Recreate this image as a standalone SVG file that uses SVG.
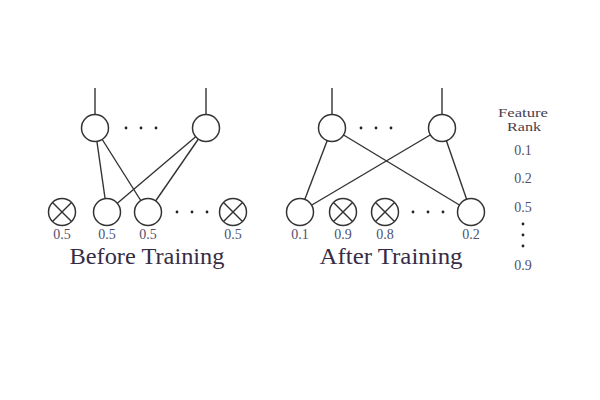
<svg xmlns="http://www.w3.org/2000/svg" width="600" height="400" viewBox="0 0 600 400">
<style>
.ln{stroke:#333;stroke-width:1.4;fill:none}
.nd{fill:#fff;stroke:#333;stroke-width:1.5}
.x{stroke:#333;stroke-width:1.4}
.dot{fill:#222}
.val{font-family:"Liberation Serif",serif;font-size:14px;fill:#50506e;text-anchor:middle}
.ttl{font-family:"Liberation Serif",serif;font-size:23px;fill:#352d45;text-anchor:middle}
.hdr{font-family:"Liberation Serif",serif;font-size:13px;fill:#4a4050;text-anchor:middle}
</style>
<defs>
<g id="dots3"><circle cx="0" cy="0" r="1.4" class="dot"/><circle cx="15" cy="0" r="1.4" class="dot"/><circle cx="30" cy="0" r="1.4" class="dot"/></g>
</defs>
<rect width="600" height="400" fill="#fff"/>
<g id="connectors">
<line class="ln" x1="95" y1="88" x2="95" y2="128"/>
<line class="ln" x1="206" y1="88" x2="206" y2="128"/>
<line class="ln" x1="95" y1="128" x2="107" y2="212"/>
<line class="ln" x1="95" y1="128" x2="148" y2="212"/>
<line class="ln" x1="206" y1="128" x2="107" y2="212"/>
<line class="ln" x1="206" y1="128" x2="148" y2="212"/>
<line class="ln" x1="332" y1="88" x2="332" y2="128"/>
<line class="ln" x1="442" y1="88" x2="442" y2="128"/>
<line class="ln" x1="332" y1="128" x2="300" y2="212"/>
<line class="ln" x1="332" y1="128" x2="471" y2="212"/>
<line class="ln" x1="442" y1="128" x2="300" y2="212"/>
<line class="ln" x1="442" y1="128" x2="471" y2="212"/>
</g>
<g id="before">
<g id="b-h1"><circle class="nd" cx="95" cy="128" r="13.5"/></g>
<g id="b-h2"><circle class="nd" cx="206" cy="128" r="13.5"/></g>
<use href="#dots3" x="126" y="128"/>
<g id="b-i1"><circle class="nd" cx="62" cy="212" r="13.5"/><line class="x" x1="52.5" y1="202.5" x2="71.5" y2="221.5"/><line class="x" x1="71.5" y1="202.5" x2="52.5" y2="221.5"/><text class="val" x="62" y="239">0.5</text></g>
<g id="b-i2"><circle class="nd" cx="107" cy="212" r="13.5"/><text class="val" x="107" y="239">0.5</text></g>
<g id="b-i3"><circle class="nd" cx="148" cy="212" r="13.5"/><text class="val" x="148" y="239">0.5</text></g>
<use href="#dots3" x="177" y="212"/>
<g id="b-i4"><circle class="nd" cx="233" cy="212" r="13.5"/><line class="x" x1="223.5" y1="202.5" x2="242.5" y2="221.5"/><line class="x" x1="242.5" y1="202.5" x2="223.5" y2="221.5"/><text class="val" x="233" y="239">0.5</text></g>
<text class="ttl" x="147" y="264" textLength="155" lengthAdjust="spacingAndGlyphs">Before Training</text>
</g>
<g id="after">
<g id="a-h1"><circle class="nd" cx="332" cy="128" r="13.5"/></g>
<g id="a-h2"><circle class="nd" cx="442" cy="128" r="13.5"/></g>
<use href="#dots3" x="361" y="128"/>
<g id="a-i1"><circle class="nd" cx="300" cy="212" r="13.5"/><text class="val" x="300" y="239">0.1</text></g>
<g id="a-i2"><circle class="nd" cx="343" cy="212" r="13.5"/><line class="x" x1="333.5" y1="202.5" x2="352.5" y2="221.5"/><line class="x" x1="352.5" y1="202.5" x2="333.5" y2="221.5"/><text class="val" x="343" y="239">0.9</text></g>
<g id="a-i3"><circle class="nd" cx="385" cy="212" r="13.5"/><line class="x" x1="375.5" y1="202.5" x2="394.5" y2="221.5"/><line class="x" x1="394.5" y1="202.5" x2="375.5" y2="221.5"/><text class="val" x="385" y="239">0.8</text></g>
<use href="#dots3" x="413" y="212"/>
<g id="a-i4"><circle class="nd" cx="471" cy="212" r="13.5"/><text class="val" x="471" y="239">0.2</text></g>
<text class="ttl" x="391" y="264" textLength="143" lengthAdjust="spacingAndGlyphs">After Training</text>
</g>
<g id="rank">
<text class="hdr" x="523" y="117" textLength="50" lengthAdjust="spacingAndGlyphs">Feature</text>
<text class="hdr" x="524" y="131" textLength="34" lengthAdjust="spacingAndGlyphs">Rank</text>
<text class="val" x="523" y="155">0.1</text>
<text class="val" x="523" y="183">0.2</text>
<text class="val" x="523" y="212">0.5</text>
<circle class="dot" cx="523" cy="224" r="1.4"/>
<circle class="dot" cx="523" cy="235" r="1.4"/>
<circle class="dot" cx="523" cy="246" r="1.4"/>
<text class="val" x="523" y="270">0.9</text>
</g>
</svg>
